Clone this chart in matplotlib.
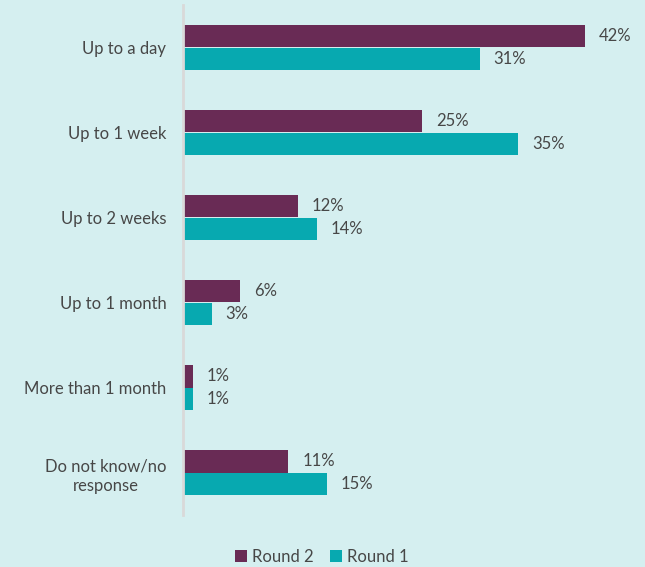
import matplotlib
matplotlib.use("Agg")
import matplotlib.pyplot as plt
import numpy as np

categories = ["Up to a day", "Up to 1 week", "Up to 2 weeks", "Up to 1 month",
              "More than 1 month", "Do not know/no\nresponse"]
round2 = [42, 25, 12, 6, 1, 11]
round1 = [31, 35, 14, 3, 1, 15]
series_names = ["Round 2", "Round 1"]

bg = "#d5eff0"
c_r2 = "#692b55"
c_r1 = "#07a9b0"
txt = "#474747"

plt.rcParams['font.family'] = ['Lato', 'DejaVu Sans']
fs = 12

fig = plt.figure(figsize=(6.45, 5.67), dpi=100, facecolor=bg)
ax = fig.add_axes([183/645, 1-515/567, 447/645, 510/567])
ax.set_facecolor(bg)

y = np.arange(len(categories))
h = 0.26
b2 = ax.barh(y - h/2, round2, height=h, color=c_r2, label=series_names[0])
b1 = ax.barh(y + h/2, round1, height=h, color=c_r1, label=series_names[1])

for bars, vals in ((b2, round2), (b1, round1)):
    for rect, v in zip(bars, vals):
        ax.annotate(f"{v}%", (rect.get_width(), rect.get_y() + rect.get_height()/2),
                    xytext=(14, 0), textcoords="offset pixels",
                    ha="left", va="center", fontsize=fs, color=txt)

ax.set_xlim(0, 447/9.57)
ax.set_ylim(len(categories) - 0.5, -0.5)
ax.set_yticks(y)
ax.set_yticklabels(categories, fontsize=fs, color=txt, linespacing=1.3)
for lab in ax.get_yticklabels():
    lab.set_horizontalalignment("right")
    lab.set_multialignment("center")
ax.tick_params(axis="y", length=0, pad=12)
ax.set_xticks([])
for s in ["top", "right", "bottom"]:
    ax.spines[s].set_visible(False)
ax.spines["left"].set_color("#d9d9d9")
ax.spines["left"].set_linewidth(2)

leg = fig.legend(handles=[b2, b1], labels=series_names, loc="center",
                 bbox_to_anchor=(322/645, 1-557/567), ncol=2, frameon=False,
                 fontsize=fs, handlelength=0.7, handleheight=0.7,
                 handletextpad=0.3, columnspacing=1.0)
for t in leg.get_texts():
    t.set_color(txt)

fig.savefig("out.png", dpi=100, facecolor=bg)
